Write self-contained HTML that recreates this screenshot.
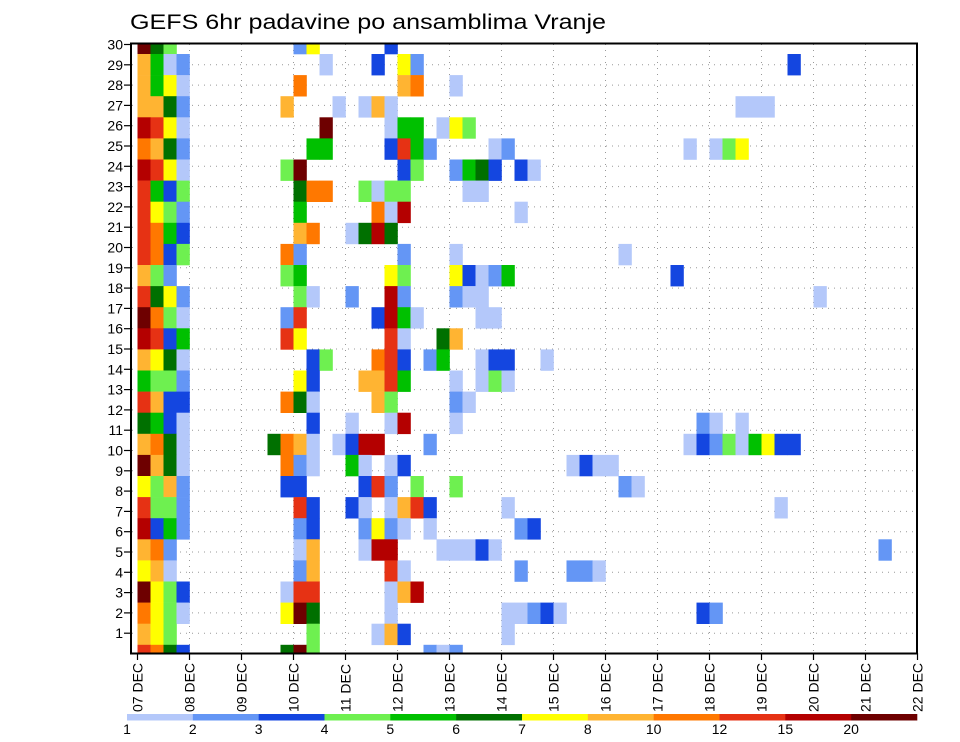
<!DOCTYPE html>
<html>
<head>
<meta charset="utf-8">
<style>
  html, body { margin: 0; padding: 0; background: #fff; }
  svg { display: block; font-family: "Liberation Sans", "DejaVu Sans", sans-serif; }
</style>
</head>
<body>
<svg id="chart" width="960" height="742" viewBox="0 0 960 742" xmlns="http://www.w3.org/2000/svg">
  <rect x="0" y="0" width="960" height="742" fill="#fff"/>
  <text x="130" y="29" font-size="21" textLength="476" lengthAdjust="spacingAndGlyphs" fill="#000">GEFS 6hr padavine po ansamblima Vranje</text>
  <defs>
    <clipPath id="plotClip"><rect x="132" y="44" width="784" height="609"/></clipPath>
  </defs>
  <g id="grid"></g>
  <g id="cells" clip-path="url(#plotClip)"></g>
  <rect x="131" y="43.5" width="786" height="610" fill="none" stroke="#000" stroke-width="2"/>
  <g id="yaxis"></g>
  <g id="xaxis"></g>
  <g id="colorbar"></g>
</svg>
<script>
// ---- data ----
const levels = [1, 2, 3, 4, 5, 6, 7, 8, 10, 12, 15, 20];
const levelColors = ["#b4c8fa", "#6496f5", "#1446e0", "#6ef050", "#00c000", "#007000", "#ffff00", "#ffb432", "#ff7800", "#e63214", "#b40000", "#6e0000"];
const dayLabels = ["07 DEC","08 DEC","09 DEC","10 DEC","11 DEC","12 DEC","13 DEC","14 DEC","15 DEC","16 DEC","17 DEC","18 DEC","19 DEC","20 DEC","21 DEC","22 DEC"];
const memberTicks = [1,2,3,4,5,6,7,8,9,10,11,12,13,14,15,16,17,18,19,20,21,22,23,24,25,26,27,28,29,30];
// each row (top to bottom): [6-hour step index, precipitation level]
const row00 = [[0,20],[1,6],[2,4],[12,2],[13,7],[19,3]];
const row01 = [[0,8],[1,5],[2,1],[3,2],[14,1],[18,3],[20,7],[21,2],[50,3]];
const row02 = [[0,8],[1,5],[2,7],[3,1],[12,10],[20,8],[21,10],[24,1]];
const row03 = [[0,8],[1,8],[2,6],[3,2],[11,8],[15,1],[17,1],[18,8],[19,1],[46,1],[47,1],[48,1]];
const row04 = [[0,15],[1,12],[2,7],[3,1],[14,20],[19,1],[20,5],[21,5],[23,1],[24,7],[25,4]];
const row05 = [[0,10],[1,8],[2,6],[3,2],[13,5],[14,5],[19,3],[20,12],[21,5],[22,2],[27,1],[28,2],[42,1],[44,1],[45,4],[46,7]];
const row06 = [[0,15],[1,12],[2,7],[3,1],[11,4],[12,20],[20,3],[21,4],[24,2],[25,5],[26,6],[27,3],[29,3],[30,1]];
const row07 = [[0,12],[1,5],[2,3],[3,4],[12,6],[13,10],[14,10],[17,4],[18,1],[19,4],[20,4],[25,1],[26,1]];
const row08 = [[0,12],[1,7],[2,4],[3,2],[12,5],[18,10],[19,1],[20,15],[29,1]];
const row09 = [[0,12],[1,10],[2,5],[3,3],[12,8],[13,10],[16,1],[17,6],[18,15],[19,6]];
const row10 = [[0,12],[1,10],[2,3],[3,4],[11,10],[12,2],[20,2],[24,1],[37,1]];
const row11 = [[0,8],[1,4],[2,2],[11,4],[12,5],[19,7],[20,4],[24,7],[25,3],[26,1],[27,2],[28,5],[41,3]];
const row12 = [[0,12],[1,6],[2,7],[3,2],[12,4],[13,1],[16,2],[19,15],[20,2],[24,2],[25,1],[26,1],[52,1]];
const row13 = [[0,20],[1,10],[2,4],[3,1],[11,2],[12,12],[18,3],[19,15],[20,5],[21,1],[26,1],[27,1]];
const row14 = [[0,15],[1,12],[2,3],[3,5],[11,12],[12,7],[19,12],[20,1],[23,6],[24,8]];
const row15 = [[0,8],[1,7],[2,6],[3,1],[13,3],[14,4],[18,10],[19,12],[20,3],[22,2],[23,5],[26,1],[27,3],[28,3],[31,1]];
const row16 = [[0,5],[1,4],[2,4],[3,2],[12,7],[13,3],[17,8],[18,8],[19,12],[20,5],[24,1],[26,1],[27,4],[28,1]];
const row17 = [[0,12],[1,8],[2,3],[3,3],[11,10],[12,6],[13,1],[18,8],[19,4],[24,2],[25,1]];
const row18 = [[0,6],[1,5],[2,3],[3,1],[13,3],[16,1],[19,1],[20,15],[24,1],[43,2],[44,1],[46,1]];
const row19 = [[0,8],[1,10],[2,6],[3,1],[10,6],[11,10],[12,8],[13,1],[15,1],[16,3],[17,15],[18,15],[22,2],[42,1],[43,3],[44,2],[45,4],[46,1],[47,5],[48,7],[49,3],[50,3]];
const row20 = [[0,20],[1,8],[2,6],[3,1],[11,10],[12,2],[13,1],[16,5],[17,1],[19,1],[20,3],[33,1],[34,3],[35,1],[36,1]];
const row21 = [[0,7],[1,4],[2,8],[3,2],[11,3],[12,3],[17,3],[18,12],[19,2],[21,4],[24,4],[37,2],[38,1]];
const row22 = [[0,12],[1,4],[2,4],[3,2],[12,12],[13,3],[16,3],[17,1],[19,1],[20,8],[21,12],[22,3],[28,1],[49,1]];
const row23 = [[0,15],[1,3],[2,5],[3,2],[12,2],[13,3],[17,2],[18,7],[19,2],[20,1],[22,1],[29,2],[30,3]];
const row24 = [[0,8],[1,10],[2,2],[12,1],[13,8],[17,1],[18,15],[19,15],[23,1],[24,1],[25,1],[26,3],[27,1],[57,2]];
const row25 = [[0,7],[1,8],[2,1],[12,2],[13,8],[19,12],[20,1],[29,2],[33,2],[34,2],[35,1]];
const row26 = [[0,20],[1,7],[2,4],[3,3],[11,1],[12,12],[13,12],[19,1],[20,8],[21,15]];
const row27 = [[0,10],[1,7],[2,4],[3,1],[11,7],[12,20],[13,6],[19,1],[28,1],[29,1],[30,2],[31,3],[32,1],[43,3],[44,2]];
const row28 = [[0,8],[1,7],[2,4],[13,4],[18,1],[19,8],[20,3],[28,1]];
const row29 = [[0,12],[1,10],[2,6],[3,3],[11,6],[12,20],[13,4],[22,2],[23,1],[24,2]];
const rows = [row00,row01,row02,row03,row04,row05,row06,row07,row08,row09,row10,row11,row12,row13,row14,row15,row16,row17,row18,row19,row20,row21,row22,row23,row24,row25,row26,row27,row28,row29];

// ---- axis functions ----
const NS = "http://www.w3.org/2000/svg";
const X0 = 137.5, STEP_W = 13, DAY_W = 52;
function xStep(c) { return X0 + c * STEP_W; }
function xDay(d) { return X0 + d * DAY_W; }
const Y0 = 43.45, ROW_H = 21.1;
function yRowTop(i) { return Y0 + (i - 0.5) * ROW_H; }
function yTick(m) { return 653.5 - m * 20.3; }
function colorFor(v) { const k = levels.indexOf(v); return levelColors[k >= 0 ? k : 0]; }
function mk(tag, attrs, parent) {
  const el = document.createElementNS(NS, tag);
  for (const k in attrs) el.setAttribute(k, attrs[k]);
  parent.appendChild(el);
  return el;
}

// grid
const grid = document.getElementById("grid");
for (let d = 1; d < dayLabels.length - 1; d++) {
  const l = mk("line", {x1: xDay(d), x2: xDay(d), y1: 44, y2: 653, stroke: "#999", "stroke-width": 1, "stroke-dasharray": "1,5"}, grid);
  
  
}
for (const m of memberTicks) {
  if (m >= 30) continue;
  const l = mk("line", {x1: 132, x2: 916, y1: yTick(m), y2: yTick(m), stroke: "#999", "stroke-width": 1, "stroke-dasharray": "1,5"}, grid);
  
  
}

// cells
const cells = document.getElementById("cells");
rows.forEach((row, i) => {
  row.forEach(([c, v]) => {
    const r = mk("rect", {x: xStep(c), y: yRowTop(i), width: STEP_W + 0.3, height: ROW_H + 0.3, fill: colorFor(v)}, cells);
    
    
  });
});

// y axis
const yaxis = document.getElementById("yaxis");
for (const m of memberTicks) {
  const t = mk("line", {x1: 124, x2: 131, y1: yTick(m), y2: yTick(m), stroke: "#000", "stroke-width": 1.2}, yaxis);
  
  
  const lb = mk("text", {x: 123, y: yTick(m) + 5, "font-size": 14, "text-anchor": "end", fill: "#000"}, yaxis);
  lb.textContent = String(m);
  
  
}

// x axis
const xaxis = document.getElementById("xaxis");
dayLabels.forEach((lab, d) => {
  const x = xDay(d);
  const t = mk("line", {x1: x, x2: x, y1: 653, y2: 660, stroke: "#000", "stroke-width": 1.2}, xaxis);
  
  
  const tx = mk("text", {x: 0, y: 0, "font-size": 14, fill: "#000", transform: "translate(" + (x + 5) + ",712) rotate(-90)"}, xaxis);
  tx.textContent = lab;
  
  
});

// colorbar
const cb = document.getElementById("colorbar");
const CB_X0 = 127, CB_X1 = 917, CB_W = (CB_X1 - CB_X0) / levels.length;
levels.forEach((v, k) => {
  const r = mk("rect", {x: CB_X0 + k * CB_W, y: 714, width: CB_W + 0.3, height: 6.5, fill: levelColors[k]}, cb);
  
  
  const t = mk("text", {x: CB_X0 + k * CB_W, y: 734, "font-size": 14, "text-anchor": "middle", fill: "#000"}, cb);
  t.textContent = String(v);
  
  
});
</script>
</body>
</html>
